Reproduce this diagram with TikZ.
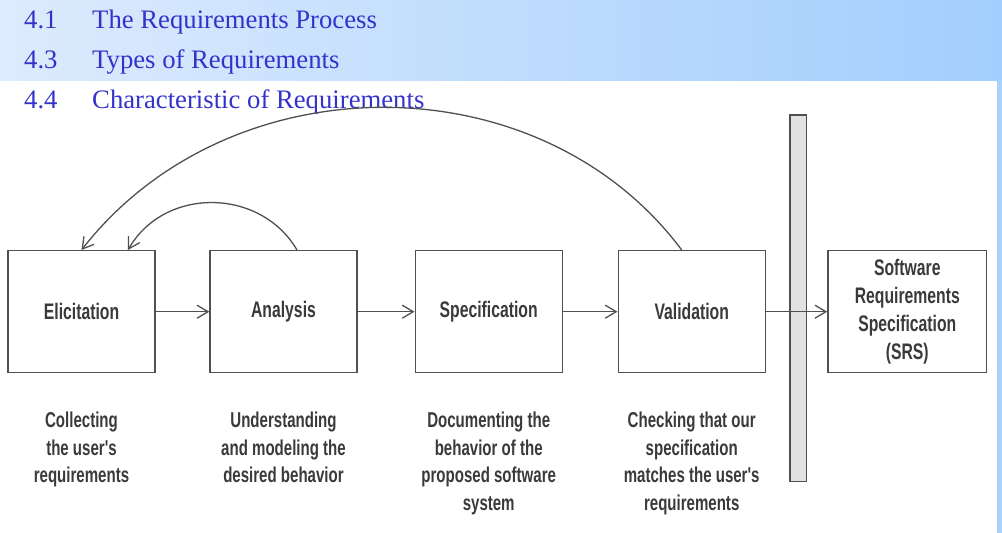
\documentclass[tikz,border=0pt]{standalone}
\usepackage{fontspec}
\setmainfont{Liberation Serif}
\newfontfamily\handfont[FakeStretch=0.7]{Liberation Sans Bold}
\usetikzlibrary{arrows.meta}
\definecolor{banL}{HTML}{DDEBFD}
\definecolor{banR}{HTML}{A2CEFD}
\definecolor{stripc}{HTML}{A8D1FB}
\definecolor{headblue}{HTML}{3333CC}
\definecolor{linec}{HTML}{505050}
\definecolor{textc}{HTML}{3A3A3A}
\definecolor{barfill}{HTML}{E2E2E2}
\tikzset{
 box/.style={draw=linec, line width=1.4pt, minimum width=147pt, minimum height=122pt, inner sep=0pt, font=\handfont\fontsize{22.5}{27.7}\selectfont, text=textc, align=center},
 desc/.style={inner sep=0pt, anchor=north, font=\handfont\fontsize{21.5}{27.6}\selectfont, text=textc, align=center},
 flow/.style={draw=linec, line width=1.3pt, -{Straight Barb[length=11pt,width=13pt,line width=1.3pt]}},
 head/.style={inner sep=0pt, anchor=base west, font=\fontsize{26.7}{30}\selectfont, text=headblue},
}
\begin{document}
\begin{tikzpicture}[x=1pt,y=-1pt]
\useasboundingbox (0,0) rectangle (1002,533);
\shade[left color=banL, right color=banR] (0,0) rectangle (1002,80);
\fill[stripc] (997,80) rectangle (1002,533);
\node[head] (n1) at (24,28) {4.1};
\node[head] (t1) at (92,28) {The Requirements Process};
\node[head] (n2) at (24,68) {4.3};
\node[head] (t2) at (92,68) {Types of Requirements};
\node[head] (n3) at (24,108) {4.4};
\node[head] (t3) at (92,108) {Characteristic of Requirements};

\node[box] (el) at (81.5,311.7) {Elicitation};
\node[box] (an) at (283.5,311.7) {Analysis};
\node[box] (sp) at (488.7,311.7) {Specification};
\node[box] (va) at (691.7,311.7) {Validation};
\node[box, minimum width=158.7pt] (srs) at (907.3,311.7) {Software\\Requirements\\Specification\\(SRS)};
\node[draw=linec, fill=barfill, line width=1.2pt, minimum width=16.7pt, minimum height=366.7pt, inner sep=0pt] (bar) at (798.3,298.3) {};

\node[desc] (d1) at (81.5,412) {Collecting\\the user's\\requirements};
\node[desc] (d2) at (283.5,412) {Understanding\\and modeling the\\desired behavior};
\node[desc] (d3) at (488.7,412) {Documenting the\\behavior of the\\proposed software\\system};
\node[desc] (d4) at (691.7,412) {Checking that our\\specification\\matches the user's\\requirements};

\draw[flow] (el.east) -- (an.west);
\draw[flow] (an.east) -- (sp.west);
\draw[flow] (sp.east) -- (va.west);
\draw[flow] (va.east) -- (srs.west);
\draw[flow] ([xshift=13.5pt]an.north) .. controls (260.5,187.5) and (164.5,186.5) .. ([xshift=46.5pt]el.north);
\draw[flow] ([xshift=-10pt]va.north) .. controls (540,60) and (230,60) .. (el.north);
\end{tikzpicture}
\end{document}
